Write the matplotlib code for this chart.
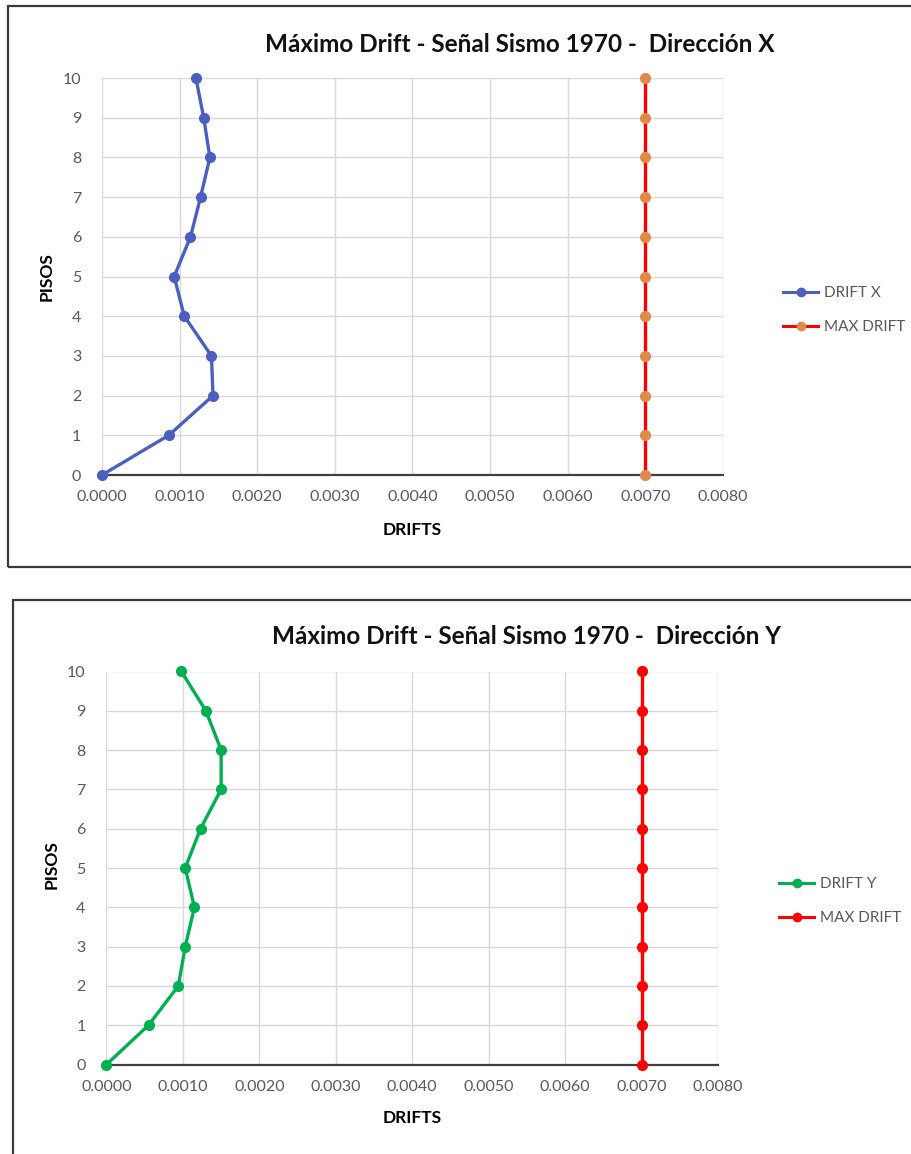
import matplotlib
matplotlib.use("Agg")
import matplotlib.pyplot as plt
from matplotlib.patches import Rectangle
from matplotlib.lines import Line2D

plt.rcParams['font.family'] = ['Lato', 'DejaVu Sans']

# pisos y derivas de entrepiso
pisos = [0, 1, 2, 3, 4, 5, 6, 7, 8, 9, 10]
drift_x = [0.0, 0.00086, 0.00143, 0.00141, 0.00106, 0.00093, 0.00114, 0.00127, 0.00139, 0.00131, 0.00121]
drift_y = [0.0, 0.00055, 0.00094, 0.00103, 0.00115, 0.00103, 0.00123, 0.00150, 0.00150, 0.00130, 0.00098]
max_drift = [0.007] * 11

x_ticks = [0.0, 0.001, 0.002, 0.003, 0.004, 0.005, 0.006, 0.007, 0.008]
y_ticks = list(range(0, 11))

W, H = 912, 1154
fig = plt.figure(figsize=(W / 100, H / 100), dpi=100)


def fx(px):
    return px / W


def fy(py):
    return 1 - py / H


def panel(box, rect, title, title_xy, ylab_xy, xlab_xy, leg_xy,
          data, name, color, mk_color, max_mk_color):
    # marco del grafico
    x0, y0, x1, y1 = box
    fig.patches.append(Rectangle((fx(x0), fy(y1)), fx(x1 - x0), (y1 - y0) / H,
                                 transform=fig.transFigure, fill=False,
                                 edgecolor='#3a3a3a', linewidth=1.6))
    l, t, r, b = rect
    ax = fig.add_axes([fx(l), fy(b), fx(r - l), (b - t) / H])
    ax.plot(data, pisos, color=color, linewidth=2.4, marker='o', markersize=7,
            markerfacecolor=mk_color, markeredgecolor=mk_color,
            clip_on=False, zorder=4, label=name)
    ax.plot(max_drift, pisos, color='#ff0000', linewidth=2.4, marker='o',
            markersize=7, markerfacecolor=max_mk_color,
            markeredgecolor=max_mk_color, clip_on=False, zorder=4,
            label='MAX DRIFT')
    ax.set_xlim(0, 0.008)
    ax.set_ylim(0, 10)
    ax.set_xticks(x_ticks)
    ax.set_xticklabels(['{:.4f}'.format(v) for v in x_ticks])
    ax.set_yticks(y_ticks)
    ax.grid(True, color='#d9d9d9', linewidth=1)
    ax.set_axisbelow(True)
    for s in ['top', 'right', 'left']:
        ax.spines[s].set_visible(False)
    ax.spines['bottom'].set_color('#404040')
    ax.spines['bottom'].set_linewidth(1.6)
    ax.tick_params(length=0, labelsize=11.5, colors='#595959', pad=11)
    ax.tick_params(axis='y', pad=15)

    fig.text(fx(title_xy[0]), fy(title_xy[1]), title, ha='center', va='center',
             fontsize=17.5, fontweight='bold', color='#111111')
    fig.text(fx(ylab_xy[0]), fy(ylab_xy[1]), 'PISOS', rotation=90,
             ha='center', va='center', fontsize=12.5, fontweight='bold')
    fig.text(fx(xlab_xy[0]), fy(xlab_xy[1]), 'DRIFTS', ha='center',
             va='center', fontsize=12.5, fontweight='bold')

    handles = [Line2D([], [], color=color, linewidth=2.2, marker='o',
                      markersize=6, markerfacecolor=mk_color,
                      markeredgecolor=mk_color),
               Line2D([], [], color='#ff0000', linewidth=2.2, marker='o',
                      markersize=6, markerfacecolor=max_mk_color,
                      markeredgecolor=max_mk_color)]
    fig.legend(handles, [name, 'MAX DRIFT'], loc='center left',
               bbox_to_anchor=(fx(leg_xy[0]), fy(leg_xy[1])), frameon=False,
               fontsize=11, labelcolor='#595959', handlelength=2.3,
               handletextpad=0.35, labelspacing=1.3, borderaxespad=0)
    return ax


panel((8, 6, 914, 567), (102, 78, 723, 475),
      'Máximo Drift - Señal Sismo 1970 -  Dirección X', (520, 44),
      (47, 277), (412, 530), (777, 310),
      drift_x, 'DRIFT X', '#4a5fbf', '#4a5fbf', '#e08a4a')

panel((13, 600, 914, 1160), (106.5, 671.5, 718, 1064.5),
      'Máximo Drift - Señal Sismo 1970 -  Dirección Y', (527, 637),
      (52, 865), (412, 1118), (773, 901),
      drift_y, 'DRIFT Y', '#00b050', '#00b050', '#ff0000')

fig.savefig('out.png', dpi=100)
